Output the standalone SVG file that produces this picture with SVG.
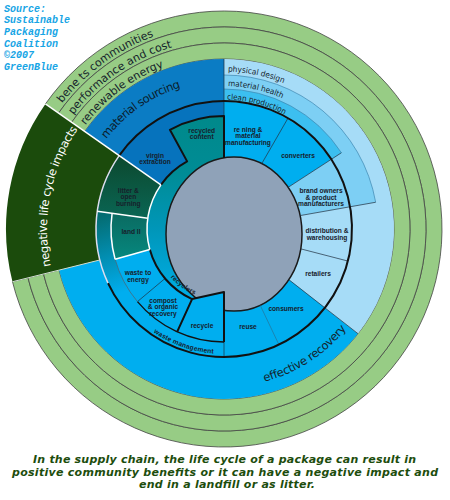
<svg xmlns="http://www.w3.org/2000/svg" width="450" height="500" viewBox="0 0 450 500">
<defs>
  <linearGradient id="gRing" gradientUnits="userSpaceOnUse" x1="0" y1="120" x2="0" y2="300">
    <stop offset="0" stop-color="#00898b"/>
    <stop offset="0.3" stop-color="#008c96"/>
    <stop offset="0.6" stop-color="#0096b8"/>
    <stop offset="1" stop-color="#00aee8"/>
  </linearGradient>
  <linearGradient id="gWaste" gradientUnits="userSpaceOnUse" x1="105" y1="215" x2="130" y2="290">
    <stop offset="0" stop-color="#046d72"/>
    <stop offset="1" stop-color="#00aeef"/>
  </linearGradient>
  <linearGradient id="gLitter" gradientUnits="userSpaceOnUse" x1="0" y1="158" x2="0" y2="215">
    <stop offset="0" stop-color="#0c4a30"/>
    <stop offset="1" stop-color="#0a6452"/>
  </linearGradient>
  <linearGradient id="gLand" gradientUnits="userSpaceOnUse" x1="0" y1="213" x2="0" y2="259">
    <stop offset="0" stop-color="#0a6a60"/>
    <stop offset="1" stop-color="#06887f"/>
  </linearGradient>
  <path id="p1" d="M60.29,105.63 A205,205 0 0 1 224,24"/>
  <path id="p2" d="M72.06,116.58 A189,189 0 0 1 224,40"/>
  <path id="p3" d="M84.93,126.1 A173,173 0 0 1 224,56"/>
  <path id="p4" d="M105.81,139.93 A148,148 0 0 1 224,81"/>
  <path id="p5" d="M52.26,271.82 A177,177 0 0 1 80.8,124.96"/>
  <path id="p6" d="M256.85,383.55 A158,158 0 0 0 351.83,321.87"/>
  <path id="p7" d="M224,71.5 A157.5,157.5 0 0 1 344.65,127.76"/>
  <path id="p8" d="M224,86 A143,143 0 0 1 333.54,137.08"/>
  <path id="p9" d="M224,99.5 A129.5,129.5 0 0 1 323.2,145.76"/>
  <path id="p10" d="M167.26,273.33 A72,72 0 0 0 205.37,298.55"/>
  <path id="p11" d="M148.77,328.83 A125,125 0 0 0 228.36,353.92"/>
</defs>
<style>
  .ring{fill:#97cc85;stroke:#444;stroke-width:0.8}
  .arcT{font-family:"DejaVu Sans",Verdana,sans-serif;font-size:11px;fill:#15232b}
  .bandT{font-family:"DejaVu Sans",Verdana,sans-serif;font-size:8px;fill:#15232b}
  .lab{font-family:"Liberation Sans",Arial,sans-serif;font-size:6.6px;font-weight:bold;fill:#17202b;text-anchor:middle}
  .cyan{fill:#00aeef}
  .light{fill:#a6dcf7}
  .mid{fill:#7dcff4}
  .thin{fill:none;stroke:#1e2e3e;stroke-width:0.7}
  .thick{fill:none;stroke:#111;stroke-width:2;stroke-linejoin:round}
  .wht{fill:none;stroke:#fff;stroke-width:1.5}
  .bl{fill:none;stroke:#3d86b0;stroke-width:0.7}
  .src{font-family:"Liberation Mono",monospace;font-size:10px;font-weight:bold;font-style:italic;fill:#17a5e5}
  .cap{font-family:"DejaVu Sans",Verdana,sans-serif;font-size:11px;font-weight:bold;font-style:italic;fill:#1d4d0d;text-anchor:middle}
</style>
<rect width="450" height="500" fill="#fff"/>

<g id="source-note">
  <text class="src" x="4" y="11.5">Source:</text>
  <text class="src" x="4" y="23.2">Sustainable</text>
  <text class="src" x="4" y="34.9">Packaging</text>
  <text class="src" x="4" y="46.6">Coalition</text>
  <text class="src" x="4" y="58.3">©2007</text>
  <text class="src" x="4" y="70">GreenBlue</text>
</g>

<g id="benefits-communities">
  <path class="ring" d="M45.42,103.96 A218,218 0 1 1 12.47,281.73 L28,277.87 A202,202 0 1 0 58.52,113.13 Z"/>
  <text class="arcT"><textPath href="#p1" startOffset="3" textLength="115" lengthAdjust="spacing">bene ts communities</textPath></text>
</g>
<g id="performance-and-cost">
  <path class="ring" d="M58.52,113.13 A202,202 0 1 1 28,277.87 L43.52,274 A186,186 0 1 0 71.63,122.31 Z"/>
  <text class="arcT"><textPath href="#p2" startOffset="2" textLength="122" lengthAdjust="spacing">performance and cost</textPath></text>
</g>
<g id="renewable-energy">
  <path class="ring" d="M71.63,122.31 A186,186 0 1 1 43.52,274 L59.05,270.12 A170,170 0 1 0 84.74,131.49 Z"/>
  <text class="arcT"><textPath href="#p3" startOffset="1" textLength="99" lengthAdjust="spacing">renewable energy</textPath></text>
</g>

<g id="physical-design">
  <path class="light" d="M224,229 L224,59 A170,170 0 0 1 357.96,333.67 Z"/>
  <text class="bandT"><textPath href="#p7" startOffset="4" textLength="57" lengthAdjust="spacingAndGlyphs">physical design</textPath></text>
</g>
<g id="effective-recovery">
  <path class="cyan" d="M224,229 L357.96,333.67 A170,170 0 0 1 59.05,270.12 Z"/>
  <text class="arcT" style="font-size:11.5px"><textPath href="#p6" startOffset="8" textLength="99" lengthAdjust="spacing">effective recovery</textPath></text>
</g>
<g id="material-sourcing">
  <path fill="#0b7cc4" d="M84.74,131.49 A170,170 0 0 1 224,59 L224,101 A128,128 0 0 0 119.14,155.58 Z"/>
  <text class="arcT" style="font-size:11.5px;fill:#0c1c2c"><textPath href="#p4" startOffset="1" textLength="92" lengthAdjust="spacing">material sourcing</textPath></text>
</g>
<g id="negative-life-cycle-impacts">
  <path fill="#1b4b0c" d="M12.47,281.73 A218,218 0 0 1 45.42,103.96 L119.14,155.58 A128,128 0 0 0 99.8,259.97 Z"/>
  <text class="arcT" style="font-size:11.5px;fill:#fff"><textPath href="#p5" startOffset="6" textLength="143" lengthAdjust="spacing">negative life cycle impacts</textPath></text>
</g>
<g id="material-health">
  <path class="mid" d="M224,229 L224,75 A154,154 0 0 1 375.66,202.26 Z"/>
  <text class="bandT"><textPath href="#p8" startOffset="4" textLength="56" lengthAdjust="spacingAndGlyphs">material health</textPath></text>
</g>
<g id="clean-production">
  <path fill="#3cbff0" d="M224,229 L224,89 A140,140 0 0 1 341.42,152.76 Z"/>
  <text class="bandT"><textPath href="#p9" startOffset="3" textLength="60" lengthAdjust="spacingAndGlyphs">clean production</textPath></text>
</g>

<g id="refining">
  <path class="cyan" d="M224,229 L224,102 A127,127 0 0 1 287.5,119.01 Z"/>
  <text class="lab"><tspan x="248" y="131.8">re ning &amp;</tspan><tspan x="248" y="138.3">material</tspan><tspan x="248" y="144.8">manufacturing</tspan></text>
</g>
<g id="converters">
  <path class="cyan" d="M224,229 L287.5,119.01 A127,127 0 0 1 330.51,159.84 Z"/>
  <text class="lab" x="298" y="158">converters</text>
</g>
<g id="brand-owners">
  <path class="mid" d="M224,229 L331.35,159.29 A128,128 0 0 1 350.06,206.77 Z"/>
  <text class="lab"><tspan x="321" y="193.2">brand owners</tspan><tspan x="321" y="199.6">&amp; product</tspan><tspan x="321" y="206">manufacturers</tspan></text>
</g>
<g id="distribution">
  <path class="light" d="M224,229 L350.06,206.77 A128,128 0 0 1 347.92,261.05 Z"/>
  <text class="lab"><tspan x="327" y="233.2">distribution &amp;</tspan><tspan x="327" y="239.8">warehousing</tspan></text>
</g>
<g id="retailers">
  <path class="light" d="M224,229 L347.92,261.05 A128,128 0 0 1 324.86,307.81 Z"/>
  <text class="lab" x="318" y="275.8">retailers</text>
</g>
<g id="consumers">
  <path class="cyan" d="M224,229 L324.86,307.81 A128,128 0 0 1 278.9,344.62 Z"/>
  <text class="lab" x="286" y="311">consumers</text>
</g>
<g id="reuse">
  <path class="cyan" d="M224,229 L278.9,344.62 A128,128 0 0 1 224,357 Z"/>
  <text class="lab" x="248" y="328.5">reuse</text>
</g>
<g id="virgin-extraction">
  <path fill="#0673bd" d="M224,229 L119.14,155.58 A128,128 0 0 1 224,101 Z"/>
  <text class="lab"><tspan x="155" y="157.5">virgin</tspan><tspan x="155" y="164">extraction</tspan></text>
</g>
<g id="waste-management">
  <path fill="url(#gWaste)" d="M224,229 L224,357 A128,128 0 0 1 97.24,211.18 Z"/>
  <text class="lab" style="text-anchor:start"><textPath href="#p11" startOffset="6" textLength="64" lengthAdjust="spacing">waste management</textPath></text>
</g>
<g id="litter-open-burning">
  <path fill="url(#gLitter)" d="M224,229 L97.24,211.18 A128,128 0 0 1 119.14,155.58 Z"/>
  <text class="lab"><tspan x="128.3" y="192.5">litter &amp;</tspan><tspan x="128.3" y="199">open</tspan><tspan x="128.3" y="205.6">burning</tspan></text>
</g>
<g id="waste-to-energy">
  <path class="cyan" d="M224,229 L137.44,301.64 A113,113 0 0 1 115.11,259.19 Z"/>
  <text class="lab"><tspan x="138" y="275.2">waste to</tspan><tspan x="138" y="281.8">energy</tspan></text>
</g>
<g id="compost-organic-recovery">
  <path class="cyan" d="M224,229 L177.14,331.83 A113,113 0 0 1 137.44,301.64 Z"/>
  <text class="lab"><tspan x="163" y="302.8">compost</tspan><tspan x="163" y="309.2">&amp; organic</tspan><tspan x="163" y="315.6">recovery</tspan></text>
</g>
<g id="landfill">
  <path fill="url(#gLand)" d="M224,229 L115.11,259.19 A113,113 0 0 1 112.1,213.27 Z"/>
  <text class="lab" x="131" y="233.5">land ll</text>
</g>
<g id="recycled-content">
  <path fill="url(#gRing)" d="M224,116 A113,113 0 0 0 169.91,129.79 L187.14,161.39 A77,77 0 0 0 192.07,299.07 L224,292 Z"/>
  <text class="lab"><tspan x="201.7" y="132.5">recycled</tspan><tspan x="201.7" y="139">content</tspan></text>
</g>
<g id="core">
  <ellipse cx="234" cy="234" rx="68" ry="77" fill="#8fa2b8" stroke="#1a1a1a" stroke-width="1.5"/>
</g>
<g id="recycle">
  <path class="cyan" d="M224,292 L192.07,299.07 L177.14,331.83 A113,113 0 0 0 224,342 Z"/>
  <text class="lab" x="202" y="327.5">recycle</text>
</g>
<g id="recyclers">
  <text class="lab" style="text-anchor:start"><textPath href="#p10" startOffset="5" textLength="30" lengthAdjust="spacing">recyclers</textPath></text>
</g>

<g id="connectors">
  <path class="bl" d="M224,75 A154,154 0 0 1 375.66,202.26"/>
  <path class="bl" d="M224,89 A140,140 0 0 1 341.42,152.76"/>
  <path class="thin" d="M224,59 L224,116"/>
  <path class="thin" d="M261.75,163.62 L287.5,119.01"/>
  <path class="thin" d="M288.16,187.34 L341.42,152.76"/>
  <path class="thin" d="M300.12,215.58 L375.66,202.26"/>
  <path class="thin" d="M300.77,248.86 L347.92,261.05"/>
  <path class="thin" d="M288.85,279.67 L357.96,333.67"/>
  <path fill="none" stroke="#2a6a8a" stroke-width="0.6" d="M260.16,305.15 L278.9,344.62"/>
  <path class="thin" d="M224,342 L224,357"/>
  <path class="thin" d="M165.02,278.5 L137.44,301.64"/>
  <path fill="none" stroke="#111" stroke-width="1.3" d="M224,342 A113,113 0 0 1 137.44,301.64"/>
  <path fill="none" stroke="#4a6a7a" stroke-width="0.8" d="M137.44,301.64 A113,113 0 0 1 115.11,259.19"/>
  <path class="thick" d="M119.14,155.58 A128,128 0 1 1 107.99,283.09"/>
  <path fill="none" stroke="#dde" stroke-width="1.5" d="M107.99,283.09 A128,128 0 0 1 119.14,155.58"/>
  <path class="thick" d="M192.07,299.07 A77,77 0 0 1 149.8,249.57"/>
  <path class="thick" d="M160.93,184.83 A77,77 0 0 1 187.14,161.39 L169.91,129.79 A113,113 0 0 1 224,116 L224,158"/>
  <path class="thick" d="M224,342 L224,292 L192.07,299.07 L177.14,331.83"/>
  <path class="wht" d="M160.93,184.83 L45.42,103.96"/>
  <path class="wht" d="M147.75,218.28 L97.24,211.18"/>
  <path class="wht" d="M149.8,249.57 L115.11,259.19"/>
  <path class="wht" d="M115.11,259.19 A113,113 0 0 1 112.1,213.27"/>
  <path class="wht" d="M149.8,249.57 A77,77 0 0 1 160.93,184.83"/>
  <path fill="none" stroke="#cfdccf" stroke-width="1" d="M99.8,259.97 L12.47,281.73"/>
</g>

<g id="caption">
  <text class="cap" x="224.5" y="463" textLength="383" lengthAdjust="spacing">In the supply chain, the life cycle of a package can result in</text>
  <text class="cap" x="225" y="475.5" textLength="426" lengthAdjust="spacing">positive community benefits or it can have a negative impact and</text>
  <text class="cap" x="227" y="487.5" textLength="176" lengthAdjust="spacing">end in a landfill or as litter.</text>
</g>
</svg>
